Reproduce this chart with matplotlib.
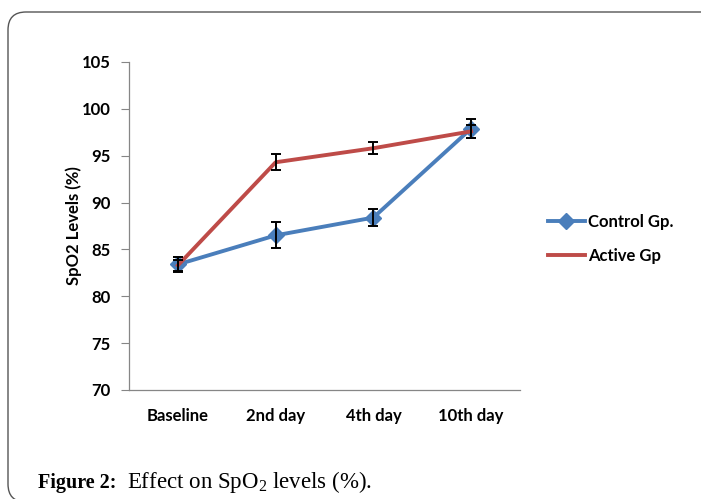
import matplotlib
matplotlib.use("Agg")
import matplotlib.pyplot as plt
from matplotlib.patches import FancyBboxPatch
from matplotlib.transforms import IdentityTransform

categories = ["Baseline", "2nd day", "4th day", "10th day"]
control = [83.4, 86.5, 88.4, 97.9]
control_err = [0.8, 1.4, 0.95, 1.0]
active = [83.3, 94.3, 95.8, 97.6]
active_err = [0.6, 0.85, 0.65, 0.7]
yticks = [70, 75, 80, 85, 90, 95, 100, 105]

W, H = 701, 499
fig = plt.figure(figsize=(W / 100, H / 100), dpi=100)
fig.patch.set_facecolor("white")

# rounded frame (pixel coordinates, origin bottom-left)
frame = FancyBboxPatch((8, -3), 722 - 8, H - 12 + 3,
                       boxstyle="round,pad=0,rounding_size=18",
                       transform=IdentityTransform(), facecolor="none",
                       edgecolor="#555555", linewidth=1.0, clip_on=False)
fig.patches.append(frame)

ax = fig.add_axes([129 / W, 1 - 390 / H, (520 - 129) / W, (390 - 62) / H])
x = list(range(len(categories)))

font = "Lato"
fs = 12
ax.plot(x, control, color="#4A7EBB", lw=2.8, marker="D", ms=8.5,
        markeredgecolor="#4A7EBB", label="Control Gp.", zorder=3)
ax.plot(x, active, color="#BE4B48", lw=2.8, label="Active Gp", zorder=4)
ax.errorbar(x, control, yerr=control_err, fmt="none", ecolor="black",
            elinewidth=1.4, capsize=3.5, capthick=1.4, zorder=5)
ax.errorbar(x, active, yerr=active_err, fmt="none", ecolor="black",
            elinewidth=1.4, capsize=3.5, capthick=1.4, zorder=5)

ax.set_xlim(-0.5, len(categories) - 0.5)
ax.set_ylim(70, 105)
ax.set_yticks(yticks)
ax.set_yticklabels([str(v) for v in yticks], fontfamily=font,
                   fontweight="bold", fontsize=fs)
ax.set_xticks(x)
ax.set_xticklabels(categories, fontfamily=font, fontweight="bold", fontsize=fs)
ax.tick_params(axis="x", length=0, pad=13)
ax.tick_params(axis="y", length=6, width=0.8, color="#868686", pad=7,
               direction="out")
for s in ["top", "right"]:
    ax.spines[s].set_visible(False)
for s in ["left", "bottom"]:
    ax.spines[s].set_color("#868686")
    ax.spines[s].set_linewidth(0.9)

ax.set_ylabel("SpO2 Levels (%)", fontfamily=font, fontweight="bold",
              fontsize=fs, labelpad=0)

leg = ax.legend(loc="center left", bbox_to_anchor=(533 / W, 1 - 239 / H),
                bbox_transform=fig.transFigure, frameon=False,
                prop={"family": font, "weight": "bold", "size": fs},
                handlelength=2.2, handletextpad=0.2, labelspacing=1.05)

plt.rcParams["mathtext.fontset"] = "custom"
plt.rcParams["mathtext.rm"] = "Liberation Serif"
fig.text(38 / W, 1 - 488 / H, "Figure 2:", fontfamily="Liberation Serif",
         fontweight="bold", fontsize=14.5, va="baseline")
fig.text(127 / W, 1 - 488 / H, r"Effect on SpO$_2$ levels (%).",
         fontfamily="Liberation Serif", fontsize=16.5, va="baseline")

fig.savefig("out.png", dpi=100, facecolor="white")
